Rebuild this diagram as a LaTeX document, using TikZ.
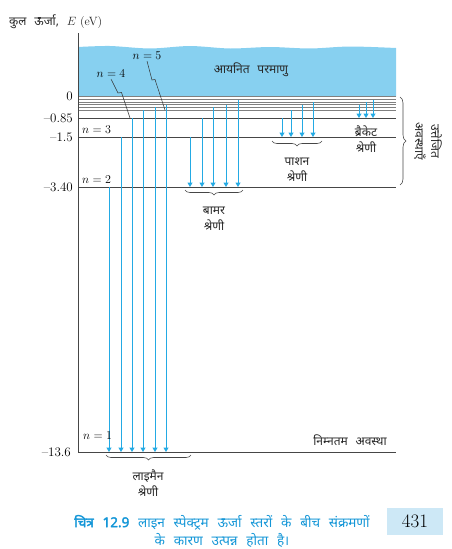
\documentclass[tikz,border=0pt]{standalone}
\usepackage{fontspec}
\newfontfamily\devfont[Script=Devanagari]{Noto Sans}
\newfontfamily\devlegenda[Script=Devanagari, WordSpace=2.5]{Noto Sans}
\newfontfamily\devnegrito[Script=Devanagari, WordSpace=2.5, FakeBold=2.5]{Noto Sans}
\definecolor{azulSeta}{RGB}{35,170,228}
\definecolor{azulFundo}{RGB}{135,208,240}
\definecolor{azulLegenda}{RGB}{20,150,215}
\definecolor{azulPagina}{RGB}{205,232,246}
\definecolor{cinzaNivel}{RGB}{70,70,70}
\usepackage{tikz}
\usetikzlibrary{arrows.meta,decorations.pathreplacing,positioning,calc}
\tikzset{
  nivel/.style={draw=cinzaNivel, line width=0.8pt},
  nivelfino/.style={draw=gray, line width=0.6pt},
  seta/.style={-{Triangle[length=4.5pt,width=5pt]}, line width=1pt, azulSeta},
  chave/.style={decorate, decoration={brace, amplitude=5pt}, line width=0.6pt, cinzaNivel},
  guia/.style={draw=black!80, line width=0.5pt},
  rotulo/.style={font=\devfont\fontsize{12}{16}\selectfont, align=center, text=black!85, inner sep=1pt},
  valor/.style={font=\fontsize{13}{14}\selectfont, anchor=east, inner sep=1pt},
  nrot/.style={font=\fontsize{13}{14}\selectfont, inner sep=1pt},
}
\begin{document}
\begin{tikzpicture}[x=1pt,y=-1pt]
  \useasboundingbox (0,0) rectangle (451,549);
  \foreach \n/\y in {1/452,2/187,3/137,4/118,5/110,6/107,7/104.5,8/102,9/99.5,0/96.5}
    \coordinate (L\n) at (78,\y);
  \coordinate (fimR) at (396,0);
  \coordinate (eixoTopo) at (78,33);

  \fill[azulFundo] plot[smooth] coordinates {(78,47) (110,46) (150,48.5) (190,46) (230,48.5) (270,47) (310,48.5) (350,46.5) (396,48)}
    -- (L0 -| fimR) -- (L0) -- cycle;

  \foreach \n in {0,9,8,7,6,5}
    \draw[nivelfino] (L\n) -- (L\n -| fimR);
  \foreach \n in {1,2,3,4}
    \draw[nivel] (L\n) -- (L\n -| fimR);
  \draw[nivel] (eixoTopo) -- (L1);

  \foreach \d/\s in {31/2,43/3,54/4,65/5,77/6,88/7}
    \draw[seta] ([xshift=\d]L\s) -- ([xshift=\d]L1);
  \foreach \d/\s in {112/3,124/4,135/6,148/7,160/9}
    \draw[seta] ([xshift=\d]L\s) -- ([xshift=\d]L2);
  \foreach \d/\s in {204/4,213/5,224/7,235/8}
    \draw[seta] ([xshift=\d]L\s) -- ([xshift=\d]L3);
  \foreach \d/\s in {281/7,288/8,295/9}
    \draw[seta] ([xshift=\d]L\s) -- ([xshift=\d]L4);

  \node[valor] (v0) at ([xshift=-4]L0) {0};
  \node[valor] (v4) at ([xshift=-4]L4) {–0.85};
  \node[valor] (v3) at ([xshift=-4]L3) {–1.5};
  \node[valor] (v2) at ([xshift=-4]L2) {–3.40};
  \node[valor] (v1) at ([xshift=-6]L1) {–13.6};

  \node[nrot, anchor=south west] (n3) at (81,135) {$n = 3$};
  \node[nrot, anchor=south west] (n2) at (81,185) {$n = 2$};
  \node[nrot, anchor=south west] (n1) at (82,441) {$n = 1$};
  \node[nrot] (n4) at (111,74) {$n = 4$};
  \node[nrot] (n5) at (147,56) {$n = 5$};
  \coordinate (k4) at (130,118);
  \coordinate (k5) at (165,110);
  \draw[guia] (n4.south) -- (118,93) -- (121.5,92.5) -- (k4);
  \draw[guia] (n5.south) -- (152,80) -- (155,79.5) -- (k5);

  \node[rotulo, anchor=west] (topo) at (8,22) {कुल ऊर्जा, {\fontspec{Latin Modern Roman}$E$ (eV)}};
  \node[rotulo] (ion) at (251,70) {आयनित परमाणु};
  \node[rotulo] (nimn) at (350,440) {निम्नतम अवस्था};
  \node[rotulo] (lyman) at (148,483) {लाइमैन\\श्रेणी};
  \node[rotulo] (balmer) at (214,219) {बामर\\श्रेणी};
  \node[rotulo] (paschen) at (297,170) {पाशन\\श्रेणी};
  \node[rotulo] (brackett) at (366,139) {ब्रैकेट\\श्रेणी};
  \node[rotulo, rotate=-90] (excit) at (428,141) {उत्तेजित\\अवस्थाएँ};

  \draw[chave, decoration={mirror}] (106,455) -- (191,455);
  \draw[chave, decoration={mirror}] (185,190) -- (243,190);
  \draw[chave, decoration={mirror}] (272,141) -- (322,141);
  \draw[chave, decoration={amplitude=6pt}] (400,97) -- (400,185);

  \node[rotulo, text=azulLegenda, font=\devlegenda\fontsize{13.5}{18}\selectfont] (legenda) at (222,531)
    {{\devnegrito चित्र 12.9} लाइन स्पेक्ट्रम ऊर्जा स्तरों के बीच संक्रमणों\\के कारण उत्पन्न होता है।};
  \node[fill=azulPagina, minimum width=56, minimum height=27, font=\fontsize{19}{20}\selectfont] (pagina) at (415,521.5) {431};
\end{tikzpicture}
\end{document}
